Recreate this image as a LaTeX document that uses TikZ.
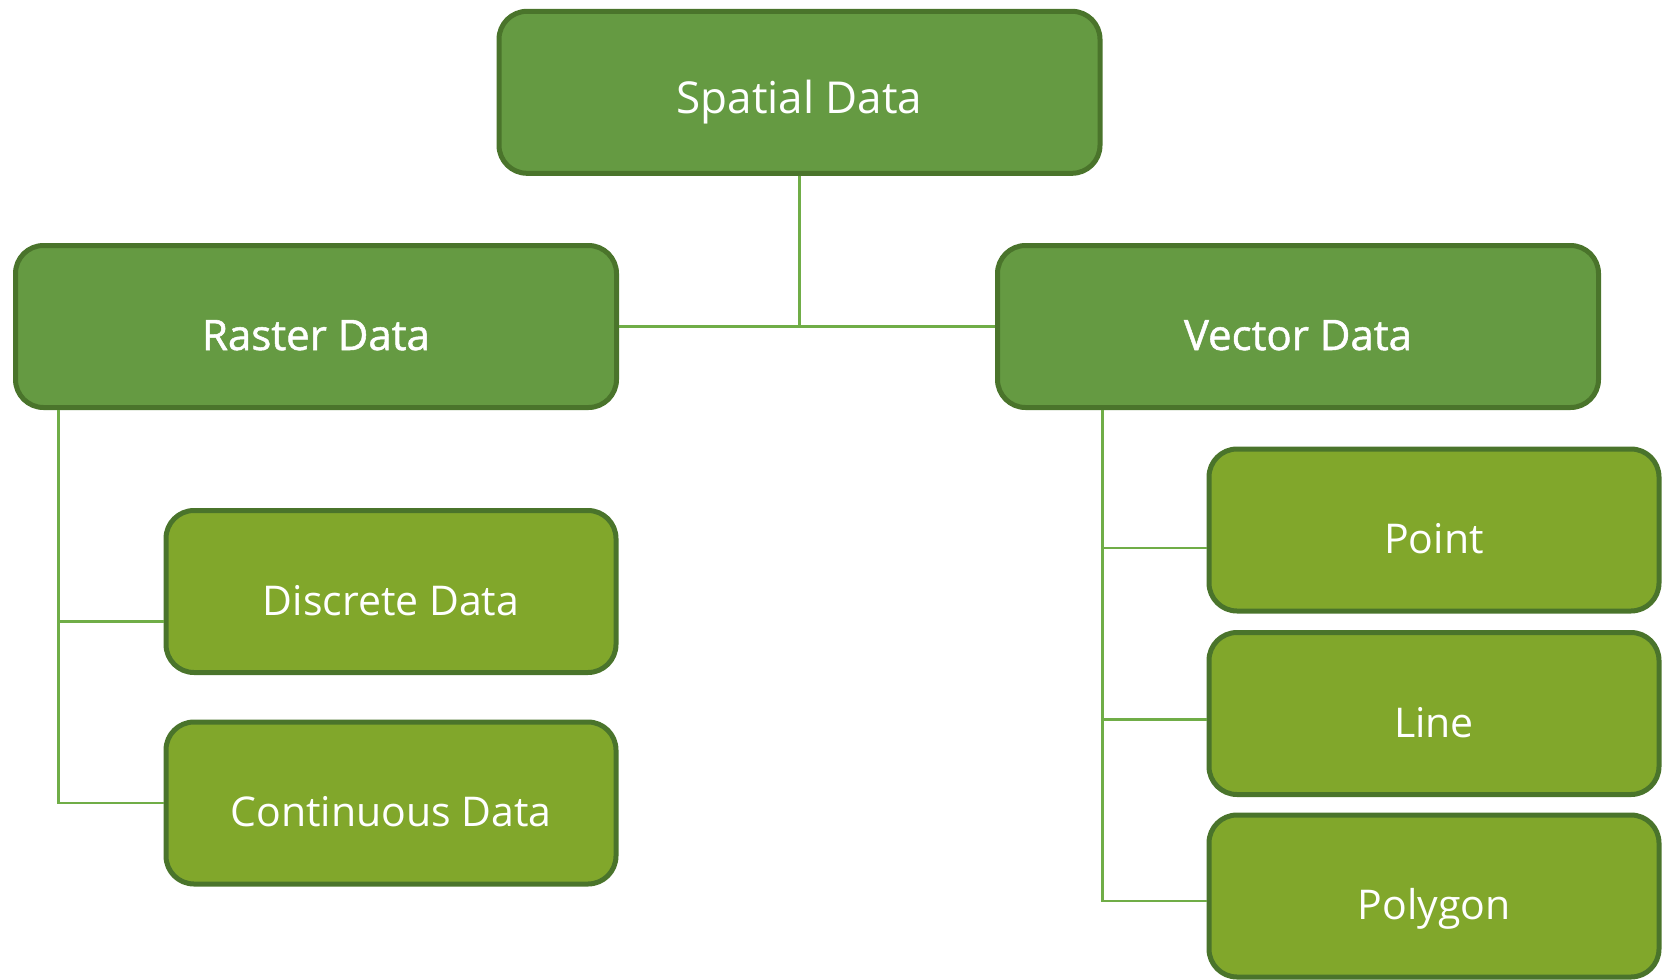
\documentclass[tikz,border=0pt]{standalone}
\usepackage{fontspec}
\setmainfont{Open Sans}
\newfontfamily\regfont{Open Sans}
\newfontfamily\medfont{Open Sans}[FakeBold=1.2]
\newfontfamily\lightfont{Open Sans}
\usetikzlibrary{calc}
\definecolor{topfill}{HTML}{659A42}
\definecolor{subfill}{HTML}{81A72B}
\definecolor{boxline}{HTML}{4A742B}
\definecolor{connline}{HTML}{70AD47}
\tikzset{
  box/.style={draw=boxline, line width=5pt, rounded corners=28pt, inner sep=0pt,
    minimum height=162pt, text=white, text height=50pt, text depth=3pt},
  bigbox/.style={box, fill=topfill, minimum width=601pt},
  subbox/.style={box, fill=subfill, minimum width=450pt,
    font=\fontsize{41}{50}\selectfont\lightfont},
  conn/.style={draw=connline, line width=2.1pt}
}
\begin{document}
\begin{tikzpicture}[x=1pt,y=-1pt]
\useasboundingbox (0,0) rectangle (1663,980);
\node[bigbox, text height=45pt, font=\fontsize{44}{50}\selectfont\regfont] (spatial) at (799.5,92.3) {Spatial Data};
\node[bigbox, font=\fontsize{42}{50}\selectfont\medfont] (raster) at (316,326.5) {Raster Data};
\node[bigbox, font=\fontsize{42}{50}\selectfont\medfont] (vector) at (1298,326.5) {Vector Data};
\node[subbox] (discrete) at (391,591.5) {Discrete Data};
\node[subbox] (continuous) at (391,803) {Continuous Data};
\node[subbox] (point) at (1434,530) {Point};
\node[subbox] (line) at (1434,713.5) {Line};
\node[subbox] (polygon) at (1434,896) {Polygon};
\coordinate (rtop) at ($(raster.south)+(-257.5,0)$);
\coordinate (vtop) at ($(vector.south)+(-195.5,0)$);
\draw[conn] (raster.east) -- (vector.west);
\draw[conn] (spatial.south) -- (spatial.south |- raster.east);
\draw[conn] (rtop) |- ($(discrete.west)+(0,30)$);
\draw[conn] (rtop) |- (continuous.west);
\draw[conn] (vtop) |- ($(point.west)+(0,18)$);
\draw[conn] (vtop) |- ($(line.west)+(0,6)$);
\draw[conn] (vtop) |- ($(polygon.west)+(0,5)$);
\end{tikzpicture}
\end{document}
